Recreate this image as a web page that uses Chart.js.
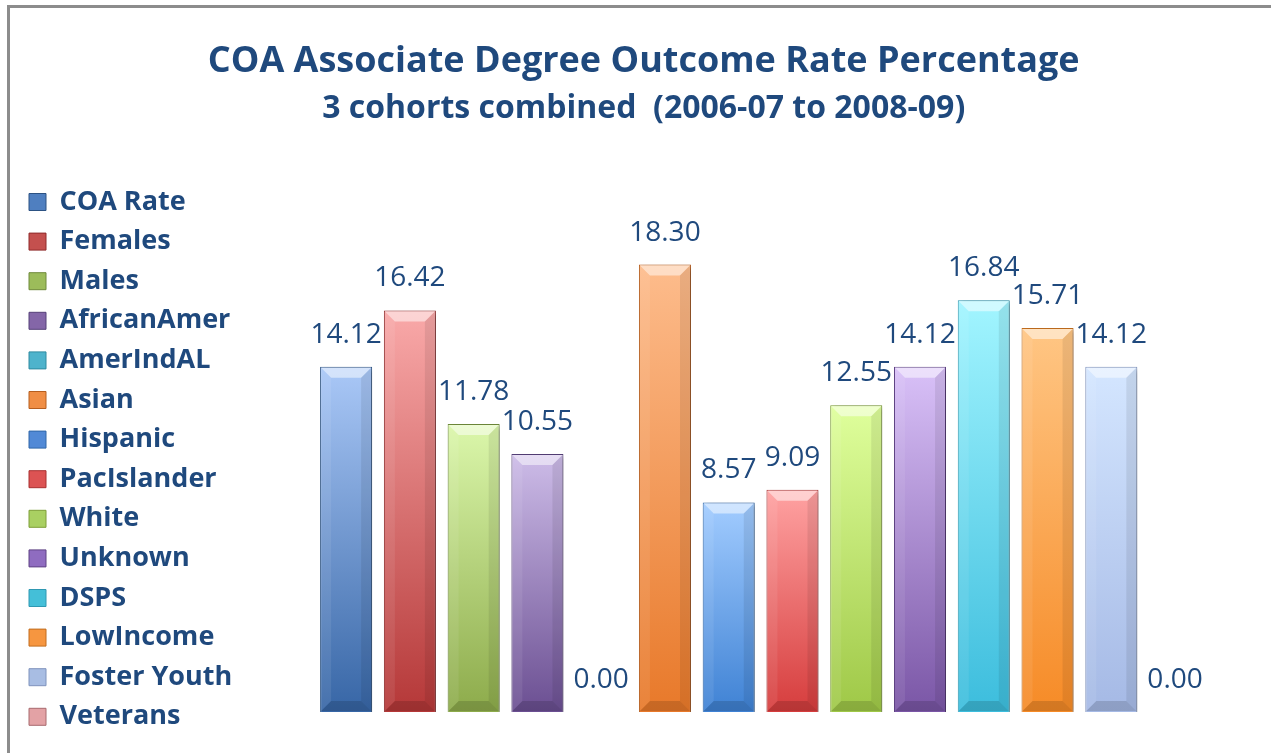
<!DOCTYPE html>
<html>
<head>
<meta charset="utf-8">
<script src="https://cdn.jsdelivr.net/npm/chart.js@4.4.1/dist/chart.umd.min.js"></script>
<style>
  body { margin: 0; background: #fff; }
  #frame {
    position: absolute; left: 7px; top: 5px; width: 1262px; height: 760px;
    border-top: 3px solid #8c8c8c; border-left: 3px solid #8c8c8c; border-right: 1px solid #dcdcdc;
  }
  #wrap { position: absolute; left: 0; top: 0; width: 1271px; height: 753px; }
</style>
</head>
<body>
<div id="frame"></div>
<div id="wrap"><canvas id="barchart" width="1271" height="753"></canvas></div>
<script>
// series (one bar each, Excel-style clustered)
const seriesNames = ['COA Rate', 'Females', 'Males', 'AfricanAmer', 'AmerIndAL', 'Asian', 'Hispanic',
  'PacIslander', 'White', 'Unknown', 'DSPS', 'LowIncome', 'Foster Youth', 'Veterans'];
const rates = [14.12, 16.42, 11.78, 10.55, 0.00, 18.30, 8.57, 9.09, 12.55, 14.12, 16.84, 15.71, 14.12, 0.00];

const topColors = ['#aac8f7', '#f9a9a9', '#dbf7ab', '#cdbce8', '#a3e4f0', '#fdbc8c', '#a2ccff', '#ffa2a2',
  '#dfff9c', '#d9c1f8', '#a2f5ff', '#ffc684', '#d4e6ff', '#f2c4c6'];
const bottomColors = ['#3766a6', '#b53838', '#8dab4b', '#6b4f92', '#3ea6c0', '#e8792a', '#3f82d4', '#d63d3d',
  '#9fc847', '#7a56a6', '#3cbddd', '#f68b27', '#a5b9e5', '#cf8a8e'];
const borderColors = ['#2c5283', '#8f2b2b', '#6f8a3a', '#554078', '#2f8aa0', '#b65e1f', '#3067a8', '#a83030',
  '#7e9e38', '#5f4384', '#2f98b2', '#c26d1e', '#7f93bd', '#a86a6e'];
const legendColors = ['#4f7fc0', '#c4504e', '#9cbc5a', '#8466a8', '#4eb3cc', '#f08e45', '#5189d6', '#dc5353',
  '#a9d062', '#8f6cc0', '#44bfd8', '#f69640', '#a8bde3', '#e3a2a5'];

const textColor = '#1F497D';

const datasets = seriesNames.map((name, i) => ({
  label: name,
  data: [rates[i]],
  backgroundColor: (c) => {
    const chart = c.chart;
    const area = chart.chartArea;
    if (!area || !chart.scales.y) return legendColors[i];
    const yTop = chart.scales.y.getPixelForValue(rates[i]);
    const g = chart.ctx.createLinearGradient(0, yTop, 0, area.bottom);
    g.addColorStop(0, topColors[i]);
    g.addColorStop(1, bottomColors[i]);
    return g;
  },
  borderColor: borderColors[i],
  borderWidth: 1
}));

// shadow + bevel look on the bars
const bevelPlugin = {
  id: 'bevel',
  beforeDatasetDraw(chart) {
    const ctx = chart.ctx;
    ctx.save();
    ctx.shadowColor = 'rgba(0,0,0,0.35)';
    ctx.shadowBlur = 5;
    ctx.shadowOffsetX = 3;
    ctx.shadowOffsetY = 2;
  },
  afterDatasetDraw(chart, args) {
    const ctx = chart.ctx;
    ctx.restore();
    const b = 11;
    args.meta.data.forEach(el => {
      const p = el.getProps(['x', 'y', 'base', 'width'], true);
      const l = p.x - p.width / 2, r = p.x + p.width / 2, t = p.y, bt = p.base;
      if (bt - t < 2 * b) return;
      ctx.save();
      ctx.fillStyle = 'rgba(255,255,255,0.5)';
      ctx.beginPath();
      ctx.moveTo(l + 1, t + 1); ctx.lineTo(r - 1, t + 1); ctx.lineTo(r - b, t + b); ctx.lineTo(l + b, t + b);
      ctx.closePath(); ctx.fill();
      ctx.fillStyle = 'rgba(255,255,255,0.08)';
      ctx.beginPath();
      ctx.moveTo(l + 1, t + 1); ctx.lineTo(l + b, t + b); ctx.lineTo(l + b, bt - b); ctx.lineTo(l + 1, bt - 1);
      ctx.closePath(); ctx.fill();
      ctx.fillStyle = 'rgba(0,0,0,0.08)';
      ctx.beginPath();
      ctx.moveTo(r - 1, t + 1); ctx.lineTo(r - b, t + b); ctx.lineTo(r - b, bt - b); ctx.lineTo(r - 1, bt - 1);
      ctx.closePath(); ctx.fill();
      ctx.fillStyle = 'rgba(0,0,0,0.14)';
      ctx.beginPath();
      ctx.moveTo(l + 1, bt - 1); ctx.lineTo(r - 1, bt - 1); ctx.lineTo(r - b, bt - b); ctx.lineTo(l + b, bt - b);
      ctx.closePath(); ctx.fill();
      ctx.restore();
    });
  }
};

// value labels above each bar
const valueLabels = {
  id: 'valueLabels',
  afterDatasetsDraw(chart) {
    const ctx = chart.ctx;
    ctx.save();
    ctx.font = '28px "Open Sans"';
    ctx.fillStyle = textColor;
    ctx.textAlign = 'center';
    ctx.textBaseline = 'middle';
    chart.data.datasets.forEach((ds, i) => {
      const el = chart.getDatasetMeta(i).data[0];
      ctx.fillText(ds.data[0].toFixed(2), el.x, el.y - 32);
    });
    ctx.restore();
  }
};

const ctx1 = document.getElementById('barchart').getContext('2d');
const barchart = new Chart(ctx1, {
  type: 'bar',
  data: { labels: [''], datasets: datasets },
  plugins: [bevelPlugin, valueLabels],
  options: {
    responsive: false,
    animation: false,
    layout: { padding: { left: 16.4, right: 0, top: 0, bottom: 0 } },
    datasets: { bar: { categoryPercentage: 0.8745, barPercentage: 0.816 } },
    scales: {
      x: {
        display: true,
        grid: { display: false },
        border: { display: false },
        ticks: { display: false },
        afterFit: (s) => { s.height = 41; }
      },
      y: {
        display: true,
        min: 0, max: 20,
        grid: { display: false },
        border: { display: false },
        ticks: { display: false },
        afterFit: (s) => { s.width = 8; }
      }
    },
    plugins: {
      tooltip: { enabled: false },
      title: {
        display: true,
        text: 'COA Associate Degree Outcome Rate Percentage',
        color: textColor,
        font: { family: 'Open Sans', size: 36, weight: 'bold', lineHeight: 1.2 },
        padding: { top: 40.4, bottom: 0 }
      },
      subtitle: {
        display: true,
        text: '3 cohorts combined  (2006-07 to 2008-09)',
        color: textColor,
        font: { family: 'Open Sans', size: 32, weight: 'bold', lineHeight: 1.2 },
        padding: { top: 6.2, bottom: 94.8 }
      },
      legend: {
        position: 'left',
        align: 'start',
        title: { display: true, text: ' ', font: { size: 10, lineHeight: 1.2 }, padding: { top: 163.9, bottom: 0 } },
        labels: {
          color: textColor,
          font: { family: 'Open Sans', size: 27, weight: 'bold' },
          boxWidth: 17,
          boxHeight: 17,
          padding: 12.6,
          generateLabels: (chart) => seriesNames.map((name, i) => ({
            text: name,
            fillStyle: legendColors[i],
            strokeStyle: borderColors[i],
            lineWidth: 1,
            fontColor: textColor,
            datasetIndex: i,
            hidden: false
          }))
        }
      }
    }
  }
});
</script>
</body>
</html>
